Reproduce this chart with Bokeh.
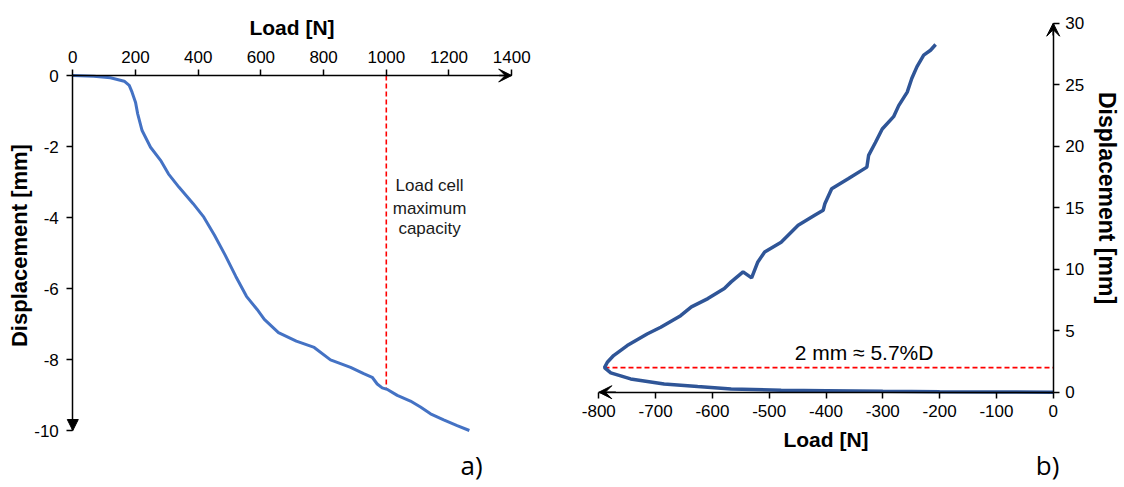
import numpy as np
from bokeh.plotting import figure
from bokeh.layouts import row
from bokeh.models import Range1d, FixedTicker, Arrow, VeeHead, NormalHead, Label
from bokeh.core.properties import value
from bokeh.embed import file_html
from bokeh.resources import INLINE

# ---- panel a) data ----
load_a = [0, 67, 120, 164, 180, 189, 200, 207, 221, 248, 280, 305, 339, 384, 418,
          452, 486, 520, 554, 588, 611, 656, 713, 770, 822, 886, 928, 955, 971, 987,
          1005, 1035, 1077, 1109, 1141, 1183, 1226, 1265]
disp_a = [0, -0.02, -0.065, -0.16, -0.28, -0.47, -0.75, -1.08, -1.55, -2.02, -2.39,
          -2.77, -3.15, -3.61, -3.99, -4.50, -5.06, -5.66, -6.22, -6.59, -6.87, -7.24,
          -7.48, -7.66, -8.01, -8.22, -8.40, -8.50, -8.69, -8.80, -8.85, -9.01, -9.17,
          -9.34, -9.53, -9.70, -9.86, -10.0]
ticks_a_x = [0, 200, 400, 600, 800, 1000, 1200, 1400]
ticks_a_y = [0, -2, -4, -6, -8, -10]
capacity_load = 1000
capacity_text = ["Load cell", "maximum", "capacity"]

# ---- panel b) data ----
load_b = [0, -100, -200, -300, -400, -479, -567, -626, -685, -744, -779, -790, -785,
          -774, -750, -715, -691, -656, -637, -608, -579, -567, -546, -531, -520, -508,
          -479, -449, -420, -405, -402, -390, -361, -328, -325, -313, -301, -281, -272,
          -257, -249, -240, -228, -216, -207]
disp_b = [0, 0.02, 0.04, 0.07, 0.12, 0.16, 0.27, 0.46, 0.67, 1.08, 1.57, 2.0, 2.44,
          2.98, 3.79, 4.73, 5.28, 6.22, 6.94, 7.61, 8.43, 8.97, 9.78, 9.29, 10.59, 11.4,
          12.2, 13.57, 14.38, 14.79, 15.32, 16.54, 17.35, 18.3, 19.25, 20.3, 21.4, 22.4,
          23.3, 24.4, 25.5, 26.45, 27.4, 27.8, 28.27]
ticks_b_x = [-800, -700, -600, -500, -400, -300, -200, -100, 0]
ticks_b_y = [0, 5, 10, 15, 20, 25, 30]
limit_disp = 2
limit_text = "2 mm ≈ 5.7%D"

FONT = "Liberation Sans"


def style_axis(ax, ticks, title=None, title_size="20px"):
    ax.ticker = FixedTicker(ticks=ticks)
    ax.major_label_overrides = {t: str(t) for t in ticks}
    ax.bounds = (min(ticks), max(ticks))
    ax.fixed_location = 0
    if title:
        ax.axis_label = title
    ax.axis_label_text_font = FONT
    ax.axis_label_text_font_style = "bold"
    ax.axis_label_text_font_size = title_size
    ax.axis_label_text_color = "black"
    ax.major_label_text_font = FONT
    ax.major_label_text_font_size = "17px"
    ax.major_label_text_color = "black"
    ax.axis_line_color = "black"
    ax.axis_line_width = 1.5
    ax.major_tick_line_color = "black"
    ax.major_tick_line_width = 1.5
    ax.major_tick_out = 6
    ax.major_tick_in = 0
    ax.minor_tick_line_color = None


def base_fig(w, h, xr, yr, xloc, yloc):
    p = figure(width=w, height=h, x_range=Range1d(*xr), y_range=Range1d(*yr),
               x_axis_location=xloc, y_axis_location=yloc,
               output_backend="svg", toolbar_location=None,
               min_border_left=0, min_border_right=0, min_border_top=0, min_border_bottom=0)
    p.outline_line_color = None
    p.xgrid.visible = False
    p.ygrid.visible = False
    return p


# ---------------- panel a ----------------
p1 = base_fig(566, 485, (-230.6, 1574.8), (-11.549, 2.113), "above", "left")
style_axis(p1.xaxis[0], ticks_a_x, "Load [N]", "21px")
style_axis(p1.yaxis[0], ticks_a_y)
p1.xaxis[0].major_label_standoff = 7
p1.xaxis[0].axis_label_standoff = 9
p1.yaxis[0].major_label_standoff = 8

p1.add_layout(Label(x=-168.4, y=-4.79, text="Displacement [mm]", text_font=FONT,
                    text_font_style="bold", text_font_size="22px", angle=np.pi / 2,
                    text_align="center", text_baseline="middle", text_color="black"))

cap_disp = float(np.interp(capacity_load, load_a, disp_a))
p1.segment(x0=[capacity_load], y0=[0], x1=[capacity_load], y1=[cap_disp],
           line_color="#FF0000", line_width=1.6, line_dash="5 3")
p1.line(load_a, disp_a, line_color="#4472C4", line_width=3)

p1.text(x=[1138, 1138, 1138], y=[-3.10, -3.74, -4.30], text=capacity_text,
        text_font=value(FONT), text_font_size="17px", text_align="center",
        text_baseline="middle", text_color="#1a1a1a")

p1.add_layout(Arrow(end=VeeHead(size=13, fill_color="black", line_color="black"),
                    x_start=1360, y_start=0, x_end=1400, y_end=0,
                    line_color="black", line_width=1.5))
p1.add_layout(Arrow(end=NormalHead(size=11, fill_color="black", line_color="black"),
                    x_start=0, y_start=-9.7, x_end=0, y_end=-10,
                    line_color="black", line_width=1.5))
p1.add_layout(Label(x=1272, y=-10.96, text="a)", text_font="Open Sans",
                    text_font_size="26px", text_align="center", text_baseline="middle",
                    text_color="black"))

# ---------------- panel b ----------------
p2 = base_fig(554, 485, (-856.9, 118.5), (-7.585, 31.846), "below", "right")
style_axis(p2.xaxis[0], ticks_b_x, "Load [N]", "21px")
style_axis(p2.yaxis[0], ticks_b_y)
p2.xaxis[0].major_label_standoff = 7
p2.xaxis[0].axis_label_standoff = 7
p2.yaxis[0].major_label_standoff = 6

p2.add_layout(Label(x=95.6, y=15.79, text="Displacement [mm]", text_font=FONT,
                    text_font_style="bold", text_font_size="23px", angle=-np.pi / 2,
                    text_align="center", text_baseline="middle", text_color="black"))

p2.segment(x0=[min(load_b)], y0=[limit_disp], x1=[0], y1=[limit_disp],
           line_color="#FF0000", line_width=1.6, line_dash="5 3")
p2.line(load_b, disp_b, line_color="#2F5597", line_width=3.5)

p2.add_layout(Label(x=-333, y=3.25, text=limit_text, text_font=FONT,
                    text_font_size="21px", text_align="center", text_baseline="middle",
                    text_color="black"))
p2.add_layout(Arrow(end=VeeHead(size=13, fill_color="black", line_color="black"),
                    x_start=-770, y_start=0, x_end=-800, y_end=0,
                    line_color="black", line_width=1.5))
p2.add_layout(Arrow(end=VeeHead(size=13, fill_color="black", line_color="black"),
                    x_start=0, y_start=29, x_end=0, y_end=30,
                    line_color="black", line_width=1.5))
p2.add_layout(Label(x=-10, y=-5.88, text="b)", text_font="Open Sans",
                    text_font_size="26px", text_align="center", text_baseline="middle",
                    text_color="black"))

layout = row(p1, p2)
open("out.html", "w").write(file_html(layout, INLINE))
